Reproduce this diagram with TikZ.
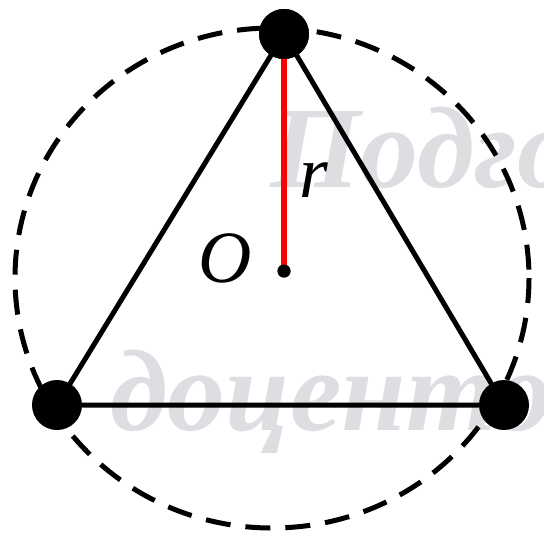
\documentclass[tikz,border=0pt]{standalone}
\usepackage{fontspec}
\setmainfont{Liberation Serif}
\usetikzlibrary{positioning}
\tikzset{
  vertexdot/.style={circle, fill=black, inner sep=0pt, minimum size=1cm},
  centerdot/.style={circle, fill=black, inner sep=0pt, minimum size=0.26cm},
  sideline/.style={line width=0.1cm, line cap=round},
  radiusline/.style={line width=0.12cm, draw=RadiusRed},
  circumline/.style={line width=0.1cm, dash pattern=on 0.5cm off 0.3cm},
  ptlabel/.style={font=\fontsize{42}{42}\selectfont\itshape, inner sep=0pt},
  watermark/.style={font=\fontsize{66}{66}\selectfont\bfseries\itshape,
    text=MarkGray, inner sep=0pt, anchor=base west}
}
\definecolor{RadiusRed}{HTML}{FF0000}
\definecolor{MarkGray}{HTML}{DCDEE2}

\begin{document}
\begin{tikzpicture}[x=0.02cm, y=-0.02cm]
\useasboundingbox (0,0) rectangle (544,532);
% watermark behind the figure
\begin{scope}
  \clip (0,0) rectangle (544,532);
  \node[watermark] (mark1) at (270,187) {Подгот};
  \node[watermark] (mark2) at (110,430) {доценто};
\end{scope}

\draw[circumline] (272,278) ellipse [x radius=257, y radius=250];

\node[vertexdot] at (284,34) (A) {};
\node[vertexdot] at (57,405) (B) {};
\node[vertexdot] at (504,405) (C) {};
\node[centerdot] at (284,271) (O) {};

\draw[sideline] (A) -- (B) -- (C) -- (A);
\draw[radiusline] (A.center) -- (O.center);
\node[vertexdot] at (A) {};
\node[centerdot] at (O) {};

\node[ptlabel] at (225,258) (Olabel) {O};
\node[ptlabel] at (314,180) (rlabel) {r};
\end{tikzpicture}
\end{document}
